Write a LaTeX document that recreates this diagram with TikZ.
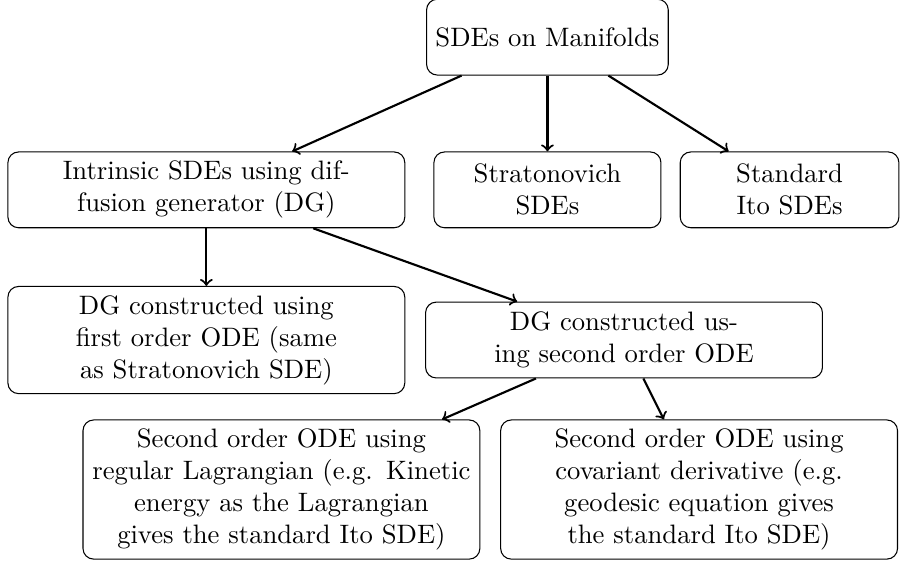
\documentclass[tikz,border=0pt]{standalone}
\usetikzlibrary{positioning}

\begin{document}
\begin{tikzpicture}[
        every node/.append style={draw=black, rounded corners, align=center, minimum height=1cm},
        wide/.style={text width=5cm},
        arr/.style={->, thick}
    ]
        \useasboundingbox (0,0) rectangle (11.87,-7.43);

        \node (sde) at (7.22,-0.49) {SDEs on Manifolds};
        \node (strat) [below=1cm of sde, text width=2.76cm] {Stratonovich SDEs};
        \node (intr) [left=.37cm of strat, wide] {Intrinsic SDEs using diffusion generator (DG)};
        \node (ito) [right=.24cm of strat, text width=2.65cm] {Standard Ito SDEs};

        \node (dg1) [below=.76cm of intr, wide] {DG constructed using first order ODE (same as Stratonovich SDE)};
        \node (dg2) [right=.26cm of dg1, wide] {DG constructed using second order ODE};

        \node (lag) [below left=.54cm and -.73cm of dg2, wide] {Second order ODE using regular Lagrangian (e.g. Kinetic energy as the Lagrangian gives the standard Ito SDE)};
        \node (cov) [right=.26cm of lag, wide] {Second order ODE using covariant derivative (e.g. geodesic equation gives the standard Ito SDE)};

        \draw [arr] (sde) -- (intr);
        \draw [arr] (sde) -- (strat);
        \draw [arr] (sde) -- (ito);
        \draw [arr] (intr) -- (dg1);
        \draw [arr] (intr) -- (dg2);
        \draw [arr] (dg2) -- (lag);
        \draw [arr] (dg2) -- (cov);
    \end{tikzpicture}
\end{document}
